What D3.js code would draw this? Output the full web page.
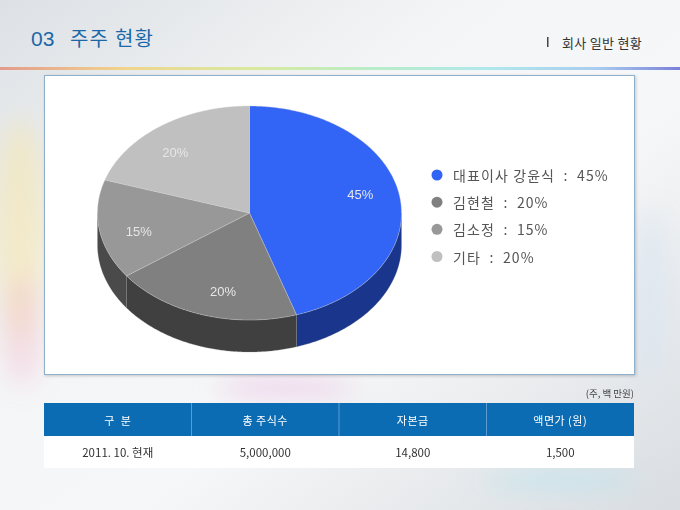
<!DOCTYPE html>
<html><head><meta charset="utf-8">
<script src="https://cdn.jsdelivr.net/npm/d3@7/dist/d3.min.js"></script>
<style>
html,body{margin:0;padding:0;background:#fff;}
svg{display:block;}
</style></head>
<body>
<svg id="c" width="680" height="510"></svg>
<script>
// ---- data ----
const holders = ["대표이사 강윤식", "김현철", "김소정", "기타"];
const shares = [45, 20, 15, 20];
const topColors = ["#3264f6", "#808080", "#989898", "#c0c0c0"];
const sideColors = ["#1a368c", "#404040", "#4a4a4a", "#6a6a6a"];
const tableHeaders = ["구  분", "총 주식수", "자본금", "액면가 (원)"];
const tableRow = ["2011. 10. 현재", "5,000,000", "14,800", "1,500"];
const unitNote = "(주, 백 만원)";
const titleNum = "03";
const titleText = "주주 현황";
const sectionText = "회사 일반 현황";

const svg = d3.select("#c");
const defs = svg.append("defs");
const KR = "'Noto Sans CJK KR','Noto Sans',sans-serif";
const LAT = "'Liberation Sans','DejaVu Sans',sans-serif";

// ---- background ----
const bg = defs.append("linearGradient").attr("id","bg").attr("x1",0).attr("y1",0).attr("x2",1).attr("y2",1);
[["0%","#dde1e5"],["35%","#f4f5f6"],["60%","#f6f7f8"],["100%","#d9dde1"]].forEach(s=>bg.append("stop").attr("offset",s[0]).attr("stop-color",s[1]));
svg.append("rect").attr("width",680).attr("height",510).attr("fill","url(#bg)");
const blur = defs.append("filter").attr("id","blur").attr("x","-50%").attr("y","-50%").attr("width","200%").attr("height","200%");
blur.append("feGaussianBlur").attr("stdDeviation",12);
const deco = svg.append("g").attr("filter","url(#blur)");
deco.append("ellipse").attr("cx",20).attr("cy",230).attr("rx",26).attr("ry",110).attr("fill","#f6e6a8").attr("opacity",0.55);
deco.append("ellipse").attr("cx",22).attr("cy",330).attr("rx",20).attr("ry",55).attr("fill","#f2c0d0").attr("opacity",0.45);
deco.append("ellipse").attr("cx",285).attr("cy",388).attr("rx",70).attr("ry",9).attr("fill","#e8b8e0").attr("opacity",0.6);
deco.append("ellipse").attr("cx",560).attr("cy",480).attr("rx",80).attr("ry",10).attr("fill","#b8e4f0").attr("opacity",0.6);
deco.append("ellipse").attr("cx",650).attr("cy",300).attr("rx",20).attr("ry",90).attr("fill","#d8e4f0").attr("opacity",0.6);

// ---- header ----
svg.append("text").attr("x",31).attr("y",46).attr("fill","#1a68a8")
  .attr("font-family",LAT).attr("font-size",21).text(titleNum);
svg.append("text").attr("x",70).attr("y",46).attr("fill","#1a68a8")
  .attr("font-family",KR).attr("font-size",20).attr("letter-spacing",1.2).text(titleText);
svg.append("rect").attr("x",547).attr("y",37).attr("width",1.5).attr("height",10).attr("fill","#444");
svg.append("text").attr("x",562).attr("y",48).attr("fill","#333")
  .attr("font-family",KR).attr("font-size",13).attr("letter-spacing",0.3).text(sectionText);

const rb = defs.append("linearGradient").attr("id","rb").attr("x1",0).attr("x2",1).attr("y1",0).attr("y2",0);
[["0%","#e49a8c"],["18%","#f0d48c"],["38%","#d8eaa0"],["55%","#b8ecc8"],["72%","#b0e8ec"],["88%","#a8ccf0"],["100%","#7a80d8"]]
  .forEach(s=>rb.append("stop").attr("offset",s[0]).attr("stop-color",s[1]));
svg.append("rect").attr("x",0).attr("y",67).attr("width",680).attr("height",3).attr("fill","url(#rb)");

// ---- chart box ----
const sh = defs.append("filter").attr("id","sh").attr("x","-5%").attr("y","-5%").attr("width","110%").attr("height","110%");
sh.append("feDropShadow").attr("dx",1).attr("dy",1).attr("stdDeviation",1.5).attr("flood-color","#000").attr("flood-opacity",0.2);
svg.append("rect").attr("x",44.5).attr("y",75.5).attr("width",590).attr("height",299)
  .attr("fill","#fff").attr("stroke","#8fb0cc").attr("stroke-width",1).attr("filter","url(#sh)");

// ---- 3D pie ----
const cx = 249.5, cy = 213, rx = 152, ry = 107, depth = 32;
const px = d3.scaleLinear().domain([-1,1]).range([cx-rx, cx+rx]);
const py = d3.scaleLinear().domain([-1,1]).range([cy-ry, cy+ry]);
const pie = d3.pie().sort(null).value(d=>d).startAngle(0).endAngle(2*Math.PI);
const arcs = pie(shares);
const line = d3.line();
const pt = (a, dz=0) => [px(Math.sin(a)), py(-Math.cos(a)) + dz];
const sample = (a0, a1) => { const n = Math.max(2, Math.ceil((a1-a0)/0.01)); return d3.range(n+1).map(i=>a0+(a1-a0)*i/n); };

const pieG = svg.append("g");
arcs.forEach((d,i)=>{
  const a0 = Math.max(d.startAngle, Math.PI/2), a1 = Math.min(d.endAngle, 3*Math.PI/2);
  if (a1 <= a0) return;
  const s = sample(a0,a1);
  const pts = s.map(a=>pt(a)).concat(s.slice().reverse().map(a=>pt(a,depth)));
  pieG.append("path").attr("d", line(pts)+"Z").attr("fill", sideColors[i])
    .attr("stroke","#8a8a8a").attr("stroke-width",0.5).attr("stroke-opacity",0.5);
});
arcs.forEach((d,i)=>{
  const pts = [[cx,cy]].concat(sample(d.startAngle,d.endAngle).map(a=>pt(a)));
  pieG.append("path").attr("d", line(pts)+"Z").attr("fill", topColors[i])
    .attr("stroke","#d0d0d0").attr("stroke-width",0.5).attr("stroke-opacity",0.7);
});
arcs.forEach((d,i)=>{
  const m = (d.startAngle+d.endAngle)/2 - 0.08, f = 0.75;
  pieG.append("text").attr("x", px(f*Math.sin(m))).attr("y", py(-f*Math.cos(m)))
    .attr("text-anchor","middle").attr("dominant-baseline","central")
    .attr("fill","#e6e6e6").attr("font-family",LAT).attr("font-size",13).text(d.data+"%");
});

// ---- legend ----
const ly = d3.scalePoint().domain(d3.range(holders.length)).range([175, 256.5]);
const leg = svg.append("g");
holders.forEach((h,i)=>{
  leg.append("circle").attr("cx",437).attr("cy",ly(i)).attr("r",5.5).attr("fill",topColors[i]);
  leg.append("text").attr("x",453).attr("y",ly(i)).attr("dominant-baseline","central")
    .attr("fill","#555").attr("font-family",KR).attr("font-size",14).attr("letter-spacing",1.1)
    .attr("xml:space","preserve").style("white-space","pre")
    .text(`${h}  :  ${shares[i]}%`);
});

// ---- table ----
const tx = d3.scaleBand().domain(d3.range(tableHeaders.length)).range([44, 634]);
const hy = 403, hh = 33, rh = 32;
svg.append("text").attr("x",634).attr("y",397).attr("text-anchor","end").attr("fill","#444")
  .attr("font-family",KR).attr("font-size",9.5).text(unitNote);
svg.append("rect").attr("x",44).attr("y",hy+hh).attr("width",590).attr("height",rh).attr("fill","#fff");
svg.append("rect").attr("x",44).attr("y",hy).attr("width",590).attr("height",hh).attr("fill","#0b6cb4");
tableHeaders.forEach((t,i)=>{
  if (i>0) svg.append("rect").attr("x",tx(i)-0.5).attr("y",hy).attr("width",1).attr("height",hh).attr("fill","#5d9bd0");
  svg.append("text").attr("x",tx(i)+tx.bandwidth()/2).attr("y",hy+hh/2).attr("text-anchor","middle")
    .attr("dominant-baseline","central").attr("fill","#fff").attr("font-family",KR).attr("font-size",11)
    .attr("letter-spacing",0.5).attr("xml:space","preserve").style("white-space","pre").text(t);
  svg.append("text").attr("x",tx(i)+tx.bandwidth()/2).attr("y",hy+hh+rh/2).attr("text-anchor","middle")
    .attr("dominant-baseline","central").attr("fill","#333").attr("font-family",KR).attr("font-size",11.5)
    .text(tableRow[i]);
});
</script>
</body></html>
